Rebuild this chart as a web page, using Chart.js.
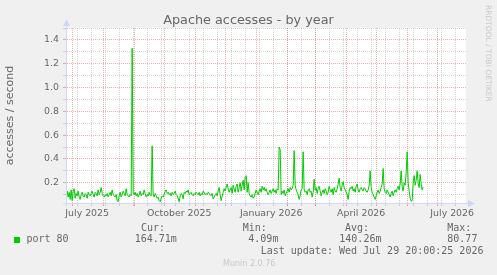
<!DOCTYPE html>
<html>
<head>
<meta charset="utf-8">
<script src="https://cdn.jsdelivr.net/npm/chart.js@4.4.1/dist/chart.umd.min.js"></script>
<style>
  body { margin: 0; background: #f0f0f0; }
  #wrap { position: relative; width: 497px; height: 275px; overflow: hidden; }
  #wrap canvas { position: absolute; left: 0; top: 0; }
  .t { position: absolute; white-space: pre; color: #666; }
  .mono { font-family: 'DejaVu Sans Mono', monospace; font-size: 10px; line-height: 12px; }
</style>
</head>
<body>
<div id="wrap">
  <canvas id="chart" width="497" height="275"></canvas>
  <div class="t" style="left:0;width:497px;text-align:center;top:11.6px;font:12.8px/16px 'DejaVu Sans';">Apache accesses - by year</div>
  <div class="t" style="left:483px;top:5px;width:11px;font:7.5px/11px 'DejaVu Sans';color:#c8c8c8;writing-mode:vertical-rl;">RRDTOOL / TOBI OETIKER</div>

  <div style="position:absolute;left:14px;top:237px;width:6px;height:6px;background:#00cc00;"></div>
  <div class="t mono" style="left:26.5px;top:233.2px;">port 80</div>
  <div class="t mono" style="left:141px;top:221.5px;">Cur:</div>
  <div class="t mono" style="left:134.7px;top:233.2px;">164.71m</div>
  <div class="t mono" style="left:242.7px;top:221.5px;">Min:</div>
  <div class="t mono" style="left:248.3px;top:233.2px;">4.09m</div>
  <div class="t mono" style="left:345px;top:221.5px;">Avg:</div>
  <div class="t mono" style="left:339.3px;top:233.2px;">140.26m</div>
  <div class="t mono" style="left:447.3px;top:221.5px;">Max:</div>
  <div class="t mono" style="left:447.3px;top:233.2px;">80.77</div>
  <div class="t mono" style="left:260.7px;top:244.5px;">Last update: Wed Jul 29 20:00:25 2026</div>
  <div class="t" style="left:223px;top:259.2px;font:8px/10px 'DejaVu Sans';color:#c8c8c8;">Munin 2.0.76</div>
</div>
<script>
// graph window (400 days, one pixel per day)
const rangeStart = '2025-06-24T20:00:25Z';
const rangeEnd = '2026-07-29T20:00:25Z';

// daily averages, first value is for this day
const firstDay = '2025-06-25';
const accesses = [
  0.10, 0.13, 0.08, 0.12, 0.06, 0.14, 0.05, 0.13, 0.15, 0.07,
  0.11, 0.09, 0.13, 0.08, 0.06, 0.10, 0.12, 0.09, 0.08, 0.11,
  0.10, 0.07, 0.12, 0.10, 0.09, 0.11, 0.13, 0.10, 0.08, 0.12,
  0.11, 0.09, 0.14, 0.10, 0.12, 0.16, 0.11, 0.09, 0.08, 0.10,
  0.09, 0.11, 0.08, 0.10, 0.12, 0.09, 0.14, 0.10, 0.09, 0.08,
  0.10, 0.05, 0.04, 0.09, 0.12, 0.08, 0.10, 0.13, 0.11, 0.09,
  0.15, 0.10, 0.09, 0.08, 0.10, 0.09, 1.33, 0.12, 0.10, 0.12,
  0.09, 0.11, 0.08, 0.10, 0.13, 0.09, 0.11, 0.10, 0.14, 0.11,
  0.08, 0.10, 0.09, 0.12, 0.10, 0.09, 0.51, 0.10, 0.08, 0.11,
  0.09, 0.07, 0.08, 0.05, 0.04, 0.07, 0.09, 0.08, 0.10, 0.13,
  0.14, 0.11, 0.12, 0.10, 0.11, 0.09, 0.12, 0.10, 0.11, 0.13,
  0.10, 0.09, 0.07, 0.04, 0.09, 0.11, 0.10, 0.065, 0.12, 0.11,
  0.13, 0.12, 0.14, 0.10, 0.11, 0.12, 0.10, 0.09, 0.11, 0.10,
  0.12, 0.11, 0.10, 0.12, 0.09, 0.11, 0.10, 0.13, 0.12, 0.10,
  0.11, 0.10, 0.12, 0.11, 0.10, 0.09, 0.11, 0.065, 0.08, 0.10,
  0.11, 0.09, 0.13, 0.16, 0.10, 0.05, 0.09, 0.12, 0.15, 0.13,
  0.16, 0.19, 0.15, 0.12, 0.14, 0.16, 0.11, 0.18, 0.15, 0.12,
  0.17, 0.19, 0.12, 0.16, 0.20, 0.13, 0.18, 0.22, 0.14, 0.25,
  0.26, 0.12, 0.20, 0.11, 0.09, 0.08, 0.10, 0.07, 0.08, 0.11,
  0.14, 0.12, 0.10, 0.13, 0.15, 0.12, 0.17, 0.14, 0.16, 0.13,
  0.15, 0.12, 0.10, 0.12, 0.14, 0.11, 0.13, 0.15, 0.12, 0.14,
  0.11, 0.15, 0.14, 0.50, 0.48, 0.10, 0.13, 0.11, 0.14, 0.09,
  0.11, 0.13, 0.15, 0.12, 0.16, 0.14, 0.15, 0.18, 0.47, 0.18,
  0.14, 0.12, 0.10, 0.06, 0.09, 0.14, 0.15, 0.46, 0.14, 0.12,
  0.13, 0.10, 0.14, 0.15, 0.12, 0.13, 0.08, 0.12, 0.23, 0.14,
  0.16, 0.11, 0.15, 0.17, 0.13, 0.09, 0.12, 0.14, 0.11, 0.15,
  0.13, 0.10, 0.12, 0.17, 0.14, 0.12, 0.15, 0.10, 0.16, 0.13,
  0.12, 0.15, 0.19, 0.24, 0.16, 0.13, 0.18, 0.21, 0.16, 0.14,
  0.12, 0.10, 0.06, 0.13, 0.16, 0.15, 0.17, 0.13, 0.15, 0.12,
  0.17, 0.19, 0.14, 0.12, 0.15, 0.16, 0.14, 0.13, 0.16, 0.15,
  0.13, 0.12, 0.14, 0.18, 0.30, 0.16, 0.12, 0.10, 0.08, 0.06,
  0.09, 0.12, 0.14, 0.11, 0.13, 0.16, 0.19, 0.32, 0.15, 0.12,
  0.11, 0.14, 0.12, 0.10, 0.08, 0.11, 0.13, 0.09, 0.12, 0.14,
  0.12, 0.15, 0.17, 0.14, 0.19, 0.30, 0.17, 0.13, 0.20, 0.18,
  0.28, 0.46, 0.20, 0.13, 0.07, 0.045, 0.05, 0.20, 0.26, 0.18,
  0.22, 0.30, 0.20, 0.16, 0.27, 0.19, 0.14, 0.165
];

// x grid: month starts (red), two-week lines (grey), quarter labels
const monthStarts = [
  '2025-07-01', '2025-08-01', '2025-09-01', '2025-10-01', '2025-11-01', '2025-12-01',
  '2026-01-01', '2026-02-01', '2026-03-01', '2026-04-01', '2026-05-01', '2026-06-01', '2026-07-01'
];
const firstWeekLine = '2025-07-06';
const xLabels = ['July 2025', 'October 2025', 'January 2026', 'April 2026', 'July 2026'];
const xLabelDays = ['2025-07-16', '2025-10-16', '2026-01-16', '2026-04-16', '2026-07-16'];

// y grid
const yMajor = [0.2, 0.4, 0.6, 0.8, 1.0, 1.2, 1.4];
const yLabels = ['0.2', '0.4', '0.6', '0.8', '1.0', '1.2', '1.4'];
const yMinor = [0.1, 0.3, 0.5, 0.7, 0.9, 1.1, 1.3, 1.5];

const DAY = 86400000;
const xMin = Date.parse(rangeStart);
const xMax = Date.parse(rangeEnd);
const t0 = Date.parse(firstDay);
const points = accesses.map((v, i) => ({ x: t0 + i * DAY, y: v }));

const RED = 'rgba(222,60,60,0.42)';
const GREY = 'rgba(128,128,128,0.34)';
const FONT = 'DejaVu Sans';

const gridColor = (ctx) => {
    const k = ctx.tick && ctx.tick.kind;
    if (k === 'major') return RED;
    if (k === 'minor') return GREY;
    return 'rgba(0,0,0,0)';
};

const frame = {
    id: 'frame',
    beforeDraw(chart) {
        const { ctx, chartArea: a } = chart;
        ctx.save();
        ctx.fillStyle = '#ffffff';
        ctx.fillRect(a.left, a.top, a.right - a.left, a.bottom - a.top);
        ctx.restore();
    },
    afterDraw(chart) {
        const { ctx, chartArea: a } = chart;
        ctx.save();
        ctx.strokeStyle = '#CFD6F8';
        ctx.fillStyle = '#CFD6F8';
        ctx.lineWidth = 1;
        ctx.beginPath();
        ctx.moveTo(a.left + 0.5, a.bottom + 3);
        ctx.lineTo(a.left + 0.5, a.top - 3);
        ctx.moveTo(a.left - 3, a.bottom + 0.5);
        ctx.lineTo(a.right + 3, a.bottom + 0.5);
        ctx.stroke();
        ctx.beginPath();
        ctx.moveTo(a.left + 0.5, a.top - 9);
        ctx.lineTo(a.left - 3, a.top - 2);
        ctx.lineTo(a.left + 4, a.top - 2);
        ctx.closePath();
        ctx.fill();
        ctx.beginPath();
        ctx.moveTo(a.right + 9, a.bottom + 0.5);
        ctx.lineTo(a.right + 2, a.bottom - 3);
        ctx.lineTo(a.right + 2, a.bottom + 4);
        ctx.closePath();
        ctx.fill();
        ctx.restore();
    }
};

new Chart(document.getElementById('chart').getContext('2d'), {
    type: 'line',
    data: {
        datasets: [{
            label: 'port 80',
            data: points,
            borderColor: '#00cc00',
            borderWidth: 1,
            pointRadius: 0,
            tension: 0,
            fill: false
        }]
    },
    options: {
        responsive: false,
        animation: false,
        events: [],
        layout: { padding: { left: 0, right: 31, top: 28, bottom: 50 } },
        plugins: {
            legend: { display: false },
            tooltip: { enabled: false },
            title: { display: false }
        },
        scales: {
            x: {
                type: 'linear',
                min: xMin,
                max: xMax,
                afterBuildTicks: (scale) => {
                    const ticks = [];
                    monthStarts.forEach(d => ticks.push({ value: Date.parse(d), kind: 'major' }));
                    for (let t = Date.parse(firstWeekLine); t < xMax; t += 14 * DAY) {
                        ticks.push({ value: t, kind: 'minor' });
                    }
                    xLabelDays.forEach((d, i) => ticks.push({ value: Date.parse(d), kind: 'label', name: xLabels[i] }));
                    ticks.sort((a, b) => a.value - b.value);
                    scale.ticks = ticks;
                },
                afterFit: (scale) => {
                    scale.height = 22;
                    scale.paddingLeft = 0;
                    scale.paddingRight = 0;
                },
                ticks: {
                    autoSkip: false,
                    maxRotation: 0,
                    minRotation: 0,
                    padding: 2,
                    color: '#666',
                    font: { family: FONT, size: 9.4 },
                    callback: (v, i, ticks) => ticks[i].name || ''
                },
                grid: { color: gridColor, tickLength: 3, lineWidth: 1 },
                border: { color: '#CFD6F8', width: 1, dash: [1, 1] }
            },
            y: {
                min: 0.03,
                max: 1.5,
                afterBuildTicks: (scale) => {
                    const ticks = [];
                    yMajor.forEach((v, i) => ticks.push({ value: v, kind: 'major', name: yLabels[i] }));
                    yMinor.forEach(v => ticks.push({ value: v, kind: 'minor' }));
                    ticks.sort((a, b) => a.value - b.value);
                    scale.ticks = ticks;
                },
                afterFit: (scale) => {
                    scale.width = 66;
                    scale.paddingTop = 0;
                    scale.paddingBottom = 0;
                },
                ticks: {
                    autoSkip: false,
                    padding: 4,
                    color: '#666',
                    font: { family: FONT, size: 9.4 },
                    callback: (v, i, ticks) => ticks[i].name || ''
                },
                grid: { color: gridColor, tickLength: 3, lineWidth: 1 },
                border: { color: '#CFD6F8', width: 1, dash: [1, 1] },
                title: {
                    display: true,
                    text: 'accesses / second',
                    color: '#666',
                    font: { family: FONT, size: 11 },
                    padding: { top: 4, bottom: 0 }
                }
            }
        }
    },
    plugins: [frame]
});
</script>
</body>
</html>
